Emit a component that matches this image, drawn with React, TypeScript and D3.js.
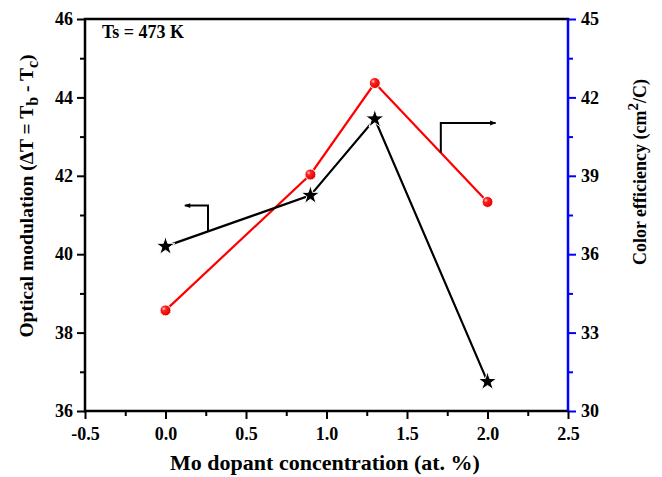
import React, { useEffect, useRef } from "react";
import * as d3 from "d3";

// Mo dopant concentration (at. %)
const dopant = [0, 0.9, 1.3, 2.0];
// Optical modulation ΔT (left axis)
const modulation = [40.2, 41.5, 43.45, 36.75];
// Colouration efficiency, cm²/C (right axis)
const efficiency = [33.85, 39.05, 42.55, 38.0];

const xTicks = [-0.5, 0, 0.5, 1.0, 1.5, 2.0, 2.5];
const xMinor = [-0.25, 0.25, 0.75, 1.25, 1.75, 2.25];
const leftTicks = [36, 38, 40, 42, 44, 46];
const leftMinor = [37, 39, 41, 43, 45];
const rightTicks = [30, 33, 36, 39, 42, 45];
const rightMinor = [31.5, 34.5, 37.5, 40.5, 43.5];

const W = 662;
const H = 477;
const plot = { left: 85, right: 568, top: 19, bottom: 411 };
const FONT = "'Liberation Serif', 'Times New Roman', serif";

export default function App() {
  const ref = useRef<SVGGElement | null>(null);

  useEffect(() => {
    const svg = d3.select(ref.current);
    svg.selectAll("*").remove();

    const x = d3.scaleLinear().domain([-0.5, 2.5]).range([plot.left, plot.right]);
    const yL = d3.scaleLinear().domain([36, 46]).range([plot.bottom, plot.top]);
    const yR = d3.scaleLinear().domain([30, 45]).range([plot.bottom, plot.top]);

    const defs = svg.append("defs");
    const grad = defs
      .append("radialGradient")
      .attr("id", "ball")
      .attr("cx", "35%")
      .attr("cy", "35%")
      .attr("r", "65%");
    grad.append("stop").attr("offset", "0%").attr("stop-color", "#ffd0d0");
    grad.append("stop").attr("offset", "30%").attr("stop-color", "#ff2020");
    grad.append("stop").attr("offset", "100%").attr("stop-color", "#e00000");

    defs
      .append("marker")
      .attr("id", "head")
      .attr("viewBox", "0 0 10 10")
      .attr("refX", 9)
      .attr("refY", 5)
      .attr("markerWidth", 9)
      .attr("markerHeight", 6)
      .attr("markerUnits", "userSpaceOnUse")
      .attr("orient", "auto")
      .append("path")
      .attr("d", "M0,1 L10,5 L0,9 Z")
      .attr("fill", "#000");

    const styleAxis = (g: any, color: string) => {
      g.select(".domain").remove();
      g.selectAll(".tick line").attr("stroke", color).attr("stroke-width", 2);
      g.selectAll(".tick text")
        .attr("fill", "#000")
        .style("font-family", FONT)
        .style("font-weight", "bold")
        .style("font-size", "18px");
    };

    // bottom axis
    const gx = svg
      .append("g")
      .attr("transform", `translate(0,${plot.bottom})`)
      .call(
        d3
          .axisBottom(x)
          .tickValues(xTicks)
          .tickSize(8)
          .tickPadding(8)
          .tickFormat((d: any) => (+d).toFixed(1))
      );
    styleAxis(gx, "#000");
    const gxm = svg
      .append("g")
      .attr("transform", `translate(0,${plot.bottom})`)
      .call(d3.axisBottom(x).tickValues(xMinor).tickSize(5).tickFormat(() => ""));
    styleAxis(gxm, "#000");

    // left axis
    const gl = svg
      .append("g")
      .attr("transform", `translate(${plot.left},0)`)
      .call(d3.axisLeft(yL).tickValues(leftTicks).tickSize(8).tickPadding(4).tickFormat(d3.format("d")));
    styleAxis(gl, "#000");
    const glm = svg
      .append("g")
      .attr("transform", `translate(${plot.left},0)`)
      .call(d3.axisLeft(yL).tickValues(leftMinor).tickSize(5).tickFormat(() => ""));
    styleAxis(glm, "#000");

    // right axis (blue)
    const gr = svg
      .append("g")
      .attr("transform", `translate(${plot.right},0)`)
      .call(d3.axisRight(yR).tickValues(rightTicks).tickSize(8).tickPadding(5).tickFormat(d3.format("d")));
    styleAxis(gr, "#0000ff");
    const grm = svg
      .append("g")
      .attr("transform", `translate(${plot.right},0)`)
      .call(d3.axisRight(yR).tickValues(rightMinor).tickSize(5).tickFormat(() => ""));
    styleAxis(grm, "#0000ff");

    // frame lines
    svg
      .append("path")
      .attr("d", `M${plot.right},${plot.top} H${plot.left} V${plot.bottom} H${plot.right}`)
      .attr("fill", "none")
      .attr("stroke", "#000")
      .attr("stroke-width", 2.5)
      .attr("stroke-linecap", "square");
    svg
      .append("line")
      .attr("x1", plot.right)
      .attr("x2", plot.right)
      .attr("y1", plot.top)
      .attr("y2", plot.bottom)
      .attr("stroke", "#0000ff")
      .attr("stroke-width", 2.5);

    // series lines
    const lineL = d3
      .line<number>()
      .x((_, i) => x(dopant[i]))
      .y((d) => yL(d));
    const lineR = d3
      .line<number>()
      .x((_, i) => x(dopant[i]))
      .y((d) => yR(d));

    svg
      .append("path")
      .attr("d", lineR(efficiency))
      .attr("fill", "none")
      .attr("stroke", "#ff0000")
      .attr("stroke-width", 2.2);
    svg
      .append("path")
      .attr("d", lineL(modulation))
      .attr("fill", "none")
      .attr("stroke", "#000")
      .attr("stroke-width", 2.2);

    // markers
    svg
      .selectAll(".ball")
      .data(efficiency)
      .enter()
      .append("circle")
      .attr("cx", (_, i) => x(dopant[i]))
      .attr("cy", (d) => yR(d))
      .attr("r", 5.5)
      .attr("fill", "url(#ball)")
      .attr("stroke", "#fff")
      .attr("stroke-width", 1);

    const star = d3.symbol().type(d3.symbolStar).size(110);
    svg
      .selectAll(".star")
      .data(modulation)
      .enter()
      .append("path")
      .attr("d", star() as string)
      .attr("transform", (d, i) => `translate(${x(dopant[i])},${yL(d)})`)
      .attr("fill", "#000")
      .attr("stroke", "#fff")
      .attr("stroke-width", 1);

    // axis pointer: black series → left axis
    const ax = 0.264;
    const i0 = d3.bisectRight(dopant, ax) - 1;
    const t0 = (ax - dopant[i0]) / (dopant[i0 + 1] - dopant[i0]);
    const yOnBlack = modulation[i0] + t0 * (modulation[i0 + 1] - modulation[i0]);
    svg
      .append("path")
      .attr("d", `M${x(ax)},${yL(yOnBlack)} V${yL(41.24)} H${x(0.12)}`)
      .attr("fill", "none")
      .attr("stroke", "#000")
      .attr("stroke-width", 2)
      .attr("marker-end", "url(#head)");

    // axis pointer: red series → right axis
    const bx = 1.71;
    const i1 = d3.bisectRight(dopant, bx) - 1;
    const t1 = (bx - dopant[i1]) / (dopant[i1 + 1] - dopant[i1]);
    const yOnRed = efficiency[i1] + t1 * (efficiency[i1 + 1] - efficiency[i1]);
    svg
      .append("path")
      .attr("d", `M${x(bx)},${yR(yOnRed)} V${yR(41.02)} H${x(2.05)}`)
      .attr("fill", "none")
      .attr("stroke", "#000")
      .attr("stroke-width", 2)
      .attr("marker-end", "url(#head)");
  }, []);

  return (
    <svg
      width={W}
      height={H}
      style={{ position: "absolute", left: 0, top: 0, background: "#fff" }}
      fontFamily={FONT}
      fontWeight="bold"
    >
      <g ref={ref} />
      <text x={102} y={38} fontSize={18} fill="#000">
        Ts = 473 K
      </text>
      <text x={325} y={470} fontSize={22} textAnchor="middle" fill="#000">
        Mo dopant concentration (at. %)
      </text>
      <text transform="translate(33,196) rotate(-90)" fontSize={19.5} textAnchor="middle" fill="#000">
        Optical modulation (ΔT = T
        <tspan fontSize={16} dy={5}>b</tspan>
        <tspan dy={-5}> - T</tspan>
        <tspan fontSize={16} dy={5}>c</tspan>
        <tspan dy={-5}>)</tspan>
      </text>
      <text transform="translate(646,172) rotate(-90)" fontSize={18} textAnchor="middle" fill="#000">
        Color efficiency (cm
        <tspan fontSize={15} dy={-8}>2</tspan>
        <tspan dy={8}>/C)</tspan>
      </text>
    </svg>
  );
}
